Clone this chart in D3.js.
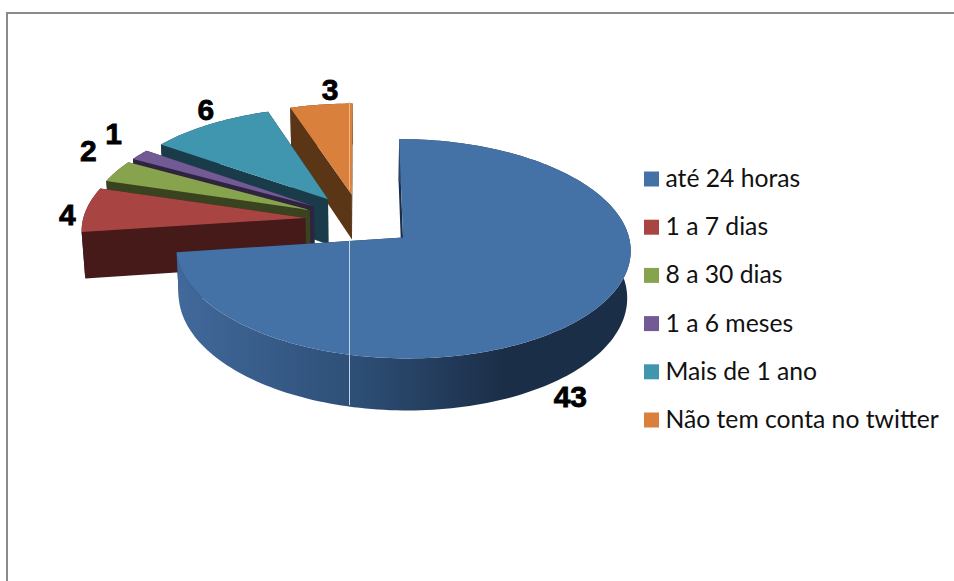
<!DOCTYPE html>
<html>
<head>
<meta charset="utf-8">
<script src="https://cdn.jsdelivr.net/npm/d3@7/dist/d3.min.js"></script>
<style>
html, body { margin: 0; padding: 0; background: #fff; }
svg { display: block; }
</style>
</head>
<body>
<svg id="chart" width="954" height="581"></svg>
<script>
var categories = ["até 24 horas", "1 a 7 dias", "8 a 30 dias", "1 a 6 meses", "Mais de 1 ano", "Não tem conta no twitter"];
var values = [43, 4, 2, 1, 6, 3];
var topColors = ["#4471a6", "#a84542", "#88a34d", "#725a94", "#4096ae", "#d9813c"];
var sideColors = ["#1b2e48", "#451a18", "#39431f", "#2e2440", "#1a3c4a", "#5a3616"];

// how the flat pie is laid on the page
var view = { vx: 360.5, vy: 220, a: 222.3, b: 105, p: 0.1, explode: 0.25, depth: 46, shrink: 0.987 };
// small nudges from the outer edge of each slice to its label
var labelNudge = [[-18, 82], [-19, 5], [-28, -21], [-26, -21], [-4, -15], [9, -15]];
var legendRows = d3.scaleLinear().domain([0, 5]).range([179, 420]);

var svg = d3.select("#chart");

var grad = svg.append("defs").append("linearGradient")
	.attr("id", "mainSide")
	.attr("gradientUnits", "userSpaceOnUse")
	.attr("x1", 177).attr("x2", 630).attr("y1", 0).attr("y2", 0);
grad.append("stop").attr("offset", 0).attr("stop-color", "#41699b");
grad.append("stop").attr("offset", 0.38).attr("stop-color", "#2e5078");
grad.append("stop").attr("offset", 0.72).attr("stop-color", "#1b2e48");
grad.append("stop").attr("offset", 1).attr("stop-color", "#1b2e48");

// chart frame, runs off the picture on the right and at the bottom
svg.append("path")
	.attr("d", "M7,581V13H954")
	.attr("fill", "none")
	.attr("stroke", "#8a8a8a")
	.attr("stroke-width", 2);

var slices = d3.pie().sort(null)(values);
slices.forEach(function(d) { d.mid = (d.startAngle + d.endAngle) / 2; });

function project(d, angle, r)
{
	var X = view.explode * Math.sin(d.mid) + r * Math.sin(angle);
	var Y = -view.explode * Math.cos(d.mid) - r * Math.cos(angle);
	var s = 1 / (1 - view.p * Y);
	return { x: view.vx + X * view.a * s, y: view.vy + Y * view.b * s, s: s };
}

function lower(pt)
{
	return { x: view.vx + (pt.x - view.vx) * view.shrink, y: pt.y + view.depth * pt.s, s: pt.s };
}

var line = d3.line()
	.x(function(p) { return p.x; })
	.y(function(p) { return p.y; });

function rimPoints(d)
{
	var n = Math.max(4, Math.ceil((d.endAngle - d.startAngle) * 40));
	return d3.range(n + 1).map(function(i)
	{
		return project(d, d.startAngle + (d.endAngle - d.startAngle) * i / n, 1);
	});
}

// painted from the back slice to the front one
var order = [5, 4, 3, 2, 1, 0];

order.forEach(function(i)
{
	var d = slices[i];
	var g = svg.append("g").attr("class", "slice");
	var rim = rimPoints(d);
	var apex = project(d, d.startAngle, 0);
	var side = i === 0 ? "url(#mainSide)" : sideColors[i];

	[rim[0], rim[rim.length - 1]].forEach(function(edge)
	{
		g.append("path")
			.attr("d", line([apex, edge, lower(edge), lower(apex)]) + "Z")
			.attr("fill", sideColors[i]);
	});

	g.append("path")
		.attr("d", line(rim.concat(rim.map(lower).reverse())) + "Z")
		.attr("fill", side);

	g.append("path")
		.attr("d", line([apex].concat(rim)) + "Z")
		.attr("fill", topColors[i]);
});

// thin light seam that crosses the picture
var seam = d3.scaleLinear().domain([0, 1]).range([240, 405]);
svg.append("line")
	.attr("x1", 349.5).attr("x2", 349.5)
	.attr("y1", seam(0)).attr("y2", seam(1))
	.attr("stroke", "#c3d3e6").attr("stroke-width", 1);
svg.append("line")
	.attr("x1", 349.5).attr("x2", 349.5)
	.attr("y1", 102).attr("y2", 190)
	.attr("stroke", "#eeb98c").attr("stroke-width", 1);

svg.selectAll(".value")
	.data(slices)
	.enter().append("text")
	.attr("class", "value")
	.attr("x", function(d, i) { return project(d, d.mid, 1).x + labelNudge[i][0]; })
	.attr("y", function(d, i) { return project(d, d.mid, 1).y + labelNudge[i][1]; })
	.attr("text-anchor", "middle")
	.attr("dominant-baseline", "central")
	.style("font", "bold 30px 'Liberation Sans', Arial, sans-serif")
	.attr("fill", "#000")
	.attr("stroke", "#000")
	.attr("stroke-width", 0.8)
	.text(function(d) { return d.value; });

var legend = svg.selectAll(".legend")
	.data(categories)
	.enter().append("g")
	.attr("class", "legend")
	.attr("transform", function(d, i) { return "translate(644," + legendRows(i) + ")"; });

legend.append("rect")
	.attr("x", 0).attr("y", -7.5)
	.attr("width", 15).attr("height", 15)
	.attr("fill", function(d, i) { return topColors[i]; });

legend.append("text")
	.attr("x", 21.5)
	.attr("y", 8)
	.style("font", "24.7px Lato, 'Noto Sans', sans-serif")
	.attr("fill", "#111")
	.text(function(d) { return d; });
</script>
</body>
</html>
